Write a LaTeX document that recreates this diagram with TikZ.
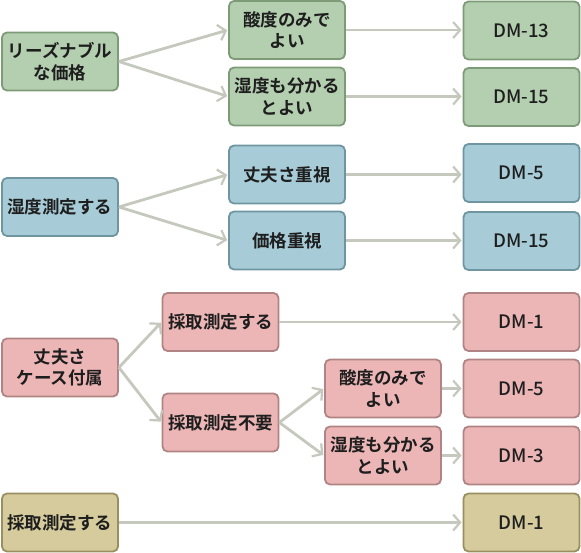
\documentclass[tikz,border=0pt]{standalone}
\usepackage{fontspec}
\setmainfont{Noto Sans CJK JP}[BoldFont={Noto Sans CJK JP Bold}]
\newfontfamily\dmfont{Noto Sans CJK JP Medium}
\usetikzlibrary{arrows.meta}
\definecolor{gfill}{HTML}{B4CFB0}\definecolor{gdraw}{HTML}{7E9B78}
\definecolor{bfill}{HTML}{A7CCD8}\definecolor{bdraw}{HTML}{6E95A0}
\definecolor{pfill}{HTML}{EDB6B6}\definecolor{pdraw}{HTML}{B08484}
\definecolor{tfill}{HTML}{D5CB9C}\definecolor{tdraw}{HTML}{9A8F60}
\definecolor{arr}{HTML}{C5C8BC}
\definecolor{txt}{HTML}{1E1E1E}
\tikzset{
  box/.style={rounded corners=5pt, line width=1.8pt, minimum width=116pt, minimum height=58pt,
    align=center, inner sep=2pt, text=txt, font=\fontsize{17.5}{21.5}\selectfont\bfseries},
  gbox/.style={box, fill=gfill, draw=gdraw},
  bbox/.style={box, fill=bfill, draw=bdraw},
  pbox/.style={box, fill=pfill, draw=pdraw},
  tbox/.style={box, fill=tfill, draw=tdraw},
  dm/.style={font=\fontsize{18.5}{21}\dmfont},
  conn/.style={draw=arr, line width=2.8pt, -{Straight Barb[length=7pt,width=16pt,line width=2.2pt]}, shorten >=1pt}
}
\begin{document}
\begin{tikzpicture}[x=1pt,y=-1pt]
\useasboundingbox (0,0) rectangle (581,553);
% row 1
\node[gbox] (a1) at (60,61.5) {リーズナブル\\な価格};
\node[gbox] (b1) at (287,30) {酸度のみで\\よい};
\node[gbox] (b2) at (287,96.5) {湿度も分かる\\とよい};
\node[gbox,dm] (c1) at (521.5,30.5) {DM-13};
\node[gbox,dm] (c2) at (521.5,97) {DM-15};
% row 2
\node[bbox] (a2) at (60,207) {湿度測定する};
\node[bbox] (b3) at (287,174.5) {丈夫さ重視};
\node[bbox] (b4) at (287,240.5) {価格重視};
\node[bbox,dm] (c3) at (521.5,173) {DM-5};
\node[bbox,dm] (c4) at (521.5,241) {DM-15};
% row 3
\node[pbox] (a3) at (60,367.5) {丈夫さ\\ケース付属};
\node[pbox] (b5) at (220.5,322) {採取測定する};
\node[pbox] (b6) at (220.5,422.5) {採取測定不要};
\node[pbox] (d1) at (383,388.5) {酸度のみで\\よい};
\node[pbox] (d2) at (383,455.5) {湿度も分かる\\とよい};
\node[pbox,dm] (c5) at (521.5,322) {DM-1};
\node[pbox,dm] (c6) at (521.5,388.5) {DM-5};
\node[pbox,dm] (c7) at (521.5,455.5) {DM-3};
% row 4
\node[tbox] (a4) at (60,522.5) {採取測定する};
\node[tbox,dm] (c8) at (521.5,522.5) {DM-1};
% connectors
\draw[conn] (a1.east) -- (b1.west);
\draw[conn] (a1.east) -- (b2.west);
\draw[conn] (b1.east) -- (c1.west |- b1.east);
\draw[conn] (b2.east) -- (c2.west |- b2.east);
\draw[conn] (a2.east) -- (b3.west);
\draw[conn] (a2.east) -- (b4.west);
\draw[conn] (b3.east) -- (c3.west |- b3.east);
\draw[conn] (b4.east) -- (c4.west |- b4.east);
\draw[conn] (a3.east) -- (b5.west);
\draw[conn] (a3.east) -- (b6.west);
\draw[conn] (b5.east) -- (c5.west);
\draw[conn] (b6.east) -- (d1.west);
\draw[conn] (b6.east) -- (d2.west);
\draw[conn] (d1.east) -- (c6.west);
\draw[conn] (d2.east) -- (c7.west);
\draw[conn] (a4.east) -- (c8.west);
\end{tikzpicture}
\end{document}
